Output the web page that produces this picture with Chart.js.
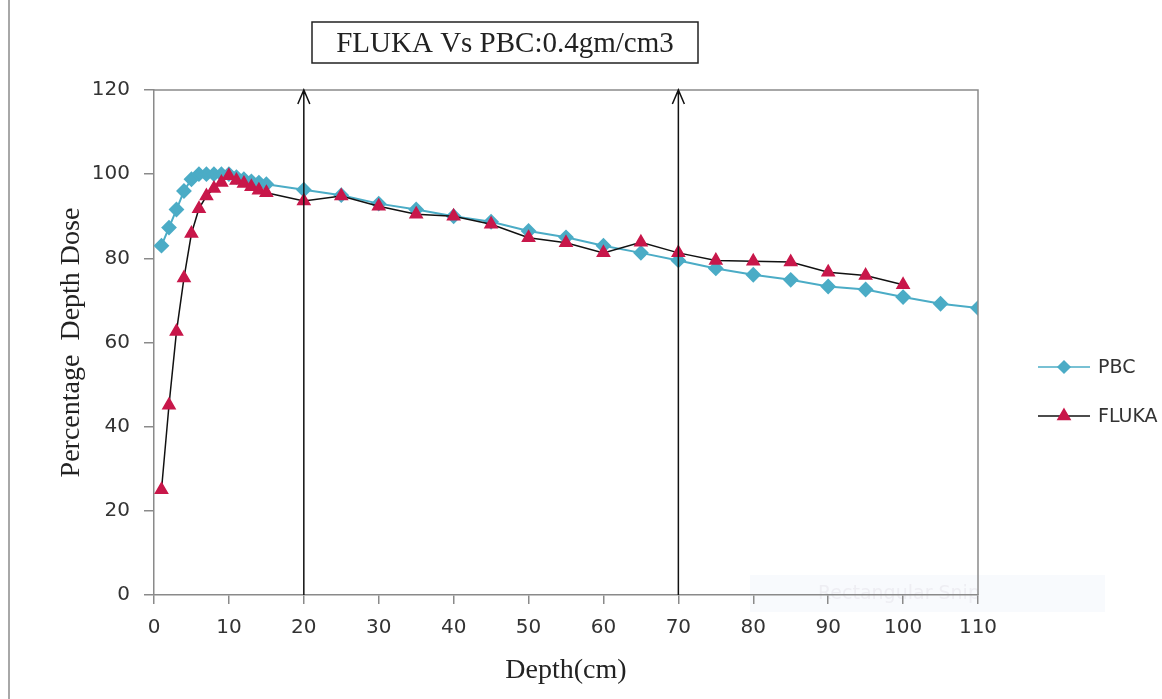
<!DOCTYPE html>
<html>
<head>
<meta charset="utf-8">
<title>FLUKA Vs PBC</title>
<script src="https://cdn.jsdelivr.net/npm/chart.js@4"></script>
<style>
    html, body { margin: 0; padding: 0; background: #fff; }
    .wrap { width: 1162px; height: 699px; }
</style>
</head>
<body>
<div class="wrap"><canvas id="chart" width="1162" height="699"></canvas></div>
<script>
let depthPBC = [1, 2, 3, 4, 5, 6, 7, 8, 9, 10, 11, 12, 13, 14, 15, 20, 25, 30, 35, 40, 45, 50, 55, 60, 65, 70, 75, 80, 85, 90, 95, 100, 105, 110]
let dosePBC = [83, 87.3, 91.6, 96, 98.8, 100, 100, 100, 100, 100, 99.3, 98.8, 98.3, 98, 97.6, 96.3, 95, 93, 91.6, 90, 88.7, 86.5, 85, 83, 81.3, 79.5, 77.6, 76.1, 74.9, 73.3, 72.6, 70.8, 69.2, 68.2]

let depthFLUKA = [1, 2, 3, 4, 5, 6, 7, 8, 9, 10, 11, 12, 13, 14, 15, 20, 25, 30, 35, 40, 45, 50, 55, 60, 65, 70, 75, 80, 85, 90, 95, 100]
let doseFLUKA = [25, 45.1, 62.6, 75.3, 85.9, 91.8, 94.8, 96.6, 98, 99.6, 98.5, 97.8, 97, 96.2, 95.6, 93.6, 94.8, 92.4, 90.5, 90, 88.1, 84.9, 83.7, 81.3, 83.8, 81.3, 79.5, 79.3, 79.1, 76.7, 75.9, 73.7]

let xTicks = [0, 10, 20, 30, 40, 50, 60, 70, 80, 90, 100, 110]
let yTicks = [0, 20, 40, 60, 80, 100, 120]
let arrowsAt = [20, 70]

let titleText = 'FLUKA Vs PBC:0.4gm/cm3'

let toPoints = (xs, ys) => xs.map((x, i) => ({ x: x, y: ys[i] }))

let blue = '#4BACC6'
let red = '#C8174A'
let axisGray = '#8a8a8a'

// excel style extras: frame, arrows, title box, legend on the right
let extras = {
    id: 'extras',
    beforeDraw(chart) {
        let c = chart.ctx
        c.save()
        c.fillStyle = '#fff'
        c.fillRect(0, 0, chart.width, chart.height)
        // page edge line on the far left
        c.strokeStyle = '#a8a8a8'
        c.lineWidth = 2
        c.beginPath()
        c.moveTo(9, 0)
        c.lineTo(9, chart.height)
        c.stroke()
        // faint snip watermark
        c.fillStyle = 'rgba(238, 242, 250, 0.4)'
        c.fillRect(750, 575, 355, 37)
        c.fillStyle = '#eeeef3'
        c.font = '19px "DejaVu Sans"'
        c.textBaseline = 'middle'
        c.fillText('Rectangular Snip', 818, 594)
        c.restore()
    },
    afterDatasetsDraw(chart) {
        let c = chart.ctx
        let a = chart.chartArea
        let xs = chart.scales.x
        let ys = chart.scales.y
        c.save()
        // top and right frame
        c.strokeStyle = axisGray
        c.lineWidth = 1.5
        c.beginPath()
        c.moveTo(a.left, a.top)
        c.lineTo(a.right, a.top)
        c.lineTo(a.right, a.bottom)
        c.stroke()

        // arrows
        c.strokeStyle = '#111'
        c.lineWidth = 1.5
        arrowsAt.forEach(v => {
            let px = xs.getPixelForValue(v)
            let y0 = ys.getPixelForValue(0)
            let y1 = ys.getPixelForValue(120)
            c.beginPath()
            c.moveTo(px, y0)
            c.lineTo(px, y1)
            c.moveTo(px - 6, y1 + 14)
            c.lineTo(px, y1)
            c.lineTo(px + 6, y1 + 14)
            c.stroke()
        })

        // title box
        c.fillStyle = '#fff'
        c.fillRect(312, 22, 386, 41)
        c.strokeStyle = '#222'
        c.lineWidth = 1.5
        c.strokeRect(312, 22, 386, 41)
        c.fillStyle = '#222'
        c.font = '29px "Liberation Serif"'
        c.textAlign = 'center'
        c.textBaseline = 'middle'
        c.fillText(titleText, 505, 44)

        // legend
        let items = [
            { label: 'PBC', y: 367, line: blue, color: blue, style: 'rectRot', r: 6 },
            { label: 'FLUKA', y: 416, line: '#111', color: red, style: 'triangle', r: 7 }
        ]
        c.textAlign = 'left'
        c.font = '19px "DejaVu Sans"'
        items.forEach(it => {
            c.strokeStyle = it.line
            c.lineWidth = 1.5
            c.beginPath()
            c.moveTo(1038, it.y)
            c.lineTo(1090, it.y)
            c.stroke()
            c.fillStyle = it.color
            c.strokeStyle = it.color
            Chart.helpers.drawPoint(c, { pointStyle: it.style, radius: it.r, borderWidth: 1 }, 1064, it.y)
            c.fillStyle = '#333'
            c.fillText(it.label, 1098, it.y + 1)
        })
        c.restore()
    }
}

let graph = document.querySelector('#chart').getContext('2d')

new Chart(graph, {
    type: 'scatter',
    data: {
        datasets: [
            {
                label: 'PBC',
                data: toPoints(depthPBC, dosePBC),
                order: 2,
                showLine: true,
                borderColor: blue,
                borderWidth: 2,
                pointStyle: 'rectRot',
                pointRadius: 6.5,
                pointBackgroundColor: blue,
                pointBorderColor: blue,
                tension: 0
            },
            {
                label: 'FLUKA',
                data: toPoints(depthFLUKA, doseFLUKA),
                order: 1,
                showLine: true,
                borderColor: '#111',
                borderWidth: 1.5,
                pointStyle: 'triangle',
                pointRadius: 7,
                pointBackgroundColor: red,
                pointBorderColor: red,
                tension: 0
            }
        ]
    },
    options: {
        responsive: false,
        animation: false,
        devicePixelRatio: 1,
        layout: {
            padding: { left: 0, top: 90, right: 184, bottom: 0 }
        },
        plugins: {
            legend: { display: false },
            tooltip: { enabled: false }
        },
        scales: {
            x: {
                type: 'linear',
                min: 0,
                max: 110,
                afterBuildTicks: s => { s.ticks = xTicks.map(v => ({ value: v })) },
                afterFit: s => { s.height = 104 },
                grid: { drawOnChartArea: false, tickLength: 9, color: axisGray, lineWidth: 1.5 },
                border: { color: axisGray, width: 1.5 },
                ticks: {
                    padding: 12,
                    color: '#333',
                    font: { family: 'DejaVu Sans', size: 20 }
                },
                title: {
                    display: true,
                    text: 'Depth(cm)',
                    color: '#222',
                    font: { family: 'Liberation Serif', size: 28 },
                    padding: { top: 0, bottom: 12 }
                }
            },
            y: {
                min: 0,
                max: 120,
                afterBuildTicks: s => { s.ticks = yTicks.map(v => ({ value: v })) },
                afterFit: s => { s.width = 154 },
                grid: { drawOnChartArea: false, tickLength: 10, color: axisGray, lineWidth: 1.5 },
                border: { color: axisGray, width: 1.5 },
                ticks: {
                    padding: 14,
                    color: '#333',
                    font: { family: 'DejaVu Sans', size: 20 }
                },
                title: {
                    display: true,
                    text: 'Percentage  Depth Dose',
                    color: '#222',
                    font: { family: 'Liberation Serif', size: 28 },
                    padding: { top: 55, bottom: 0 }
                }
            }
        }
    },
    plugins: [extras]
})
</script>
</body>
</html>
